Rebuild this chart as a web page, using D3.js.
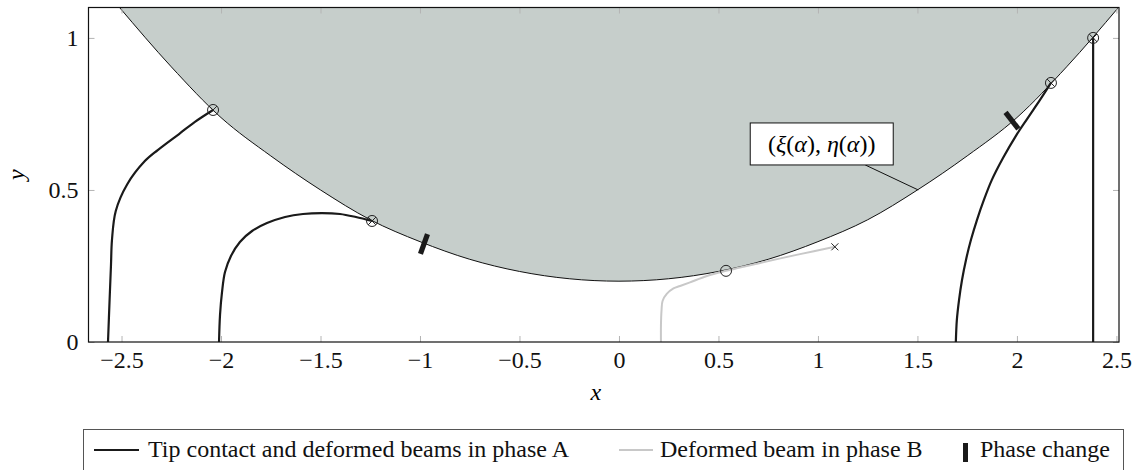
<!DOCTYPE html>
<html>
<head>
<meta charset="utf-8">
<script src="https://cdn.jsdelivr.net/npm/d3@7"></script>
<style>
  body { margin: 0; background: #fff; }
  svg text { font-family: "Liberation Serif", "Times New Roman", Times, "DejaVu Serif", serif; }
</style>
</head>
<body>
<div id="chart"></div>
<script>
// boundary curve (xi(alpha), eta(alpha))
var boundaryX = [-2.51, -2.25, -2.0, -1.75, -1.5, -1.25, -1.0, -0.75, -0.5, -0.25, 0, 0.25, 0.5, 0.75, 1.0, 1.25, 1.5, 1.75, 2.0, 2.25, 2.51];
var boundaryY = [1.1, 0.905, 0.738, 0.612, 0.500, 0.402, 0.330, 0.272, 0.232, 0.208, 0.200, 0.208, 0.232, 0.272, 0.330, 0.402, 0.500, 0.612, 0.738, 0.905, 1.1];

// deformed beams in phase A
var beam1X = [-2.568, -2.560, -2.553, -2.548, -2.529, -2.472, -2.384, -2.318, -2.211, -2.131, -2.040];
var beam1Y = [0, 0.138, 0.253, 0.336, 0.431, 0.518, 0.594, 0.631, 0.684, 0.724, 0.763];
var beam2X = [-2.010, -2.005, -1.995, -1.980, -1.950, -1.905, -1.844, -1.769, -1.678, -1.588, -1.492, -1.402, -1.322, -1.241];
var beam2Y = [0, 0.089, 0.164, 0.230, 0.283, 0.329, 0.365, 0.391, 0.411, 0.421, 0.424, 0.421, 0.411, 0.398];
var beam3X = [1.693, 1.698, 1.709, 1.724, 1.744, 1.769, 1.799, 1.834, 1.874, 1.930, 1.995, 2.055, 2.116, 2.171];
var beam3Y = [0, 0.072, 0.138, 0.204, 0.270, 0.336, 0.401, 0.467, 0.533, 0.605, 0.678, 0.737, 0.796, 0.852];
var beam4X = [2.383, 2.383];
var beam4Y = [0, 1.0];

// deformed beam in phase B
var beamBX = [0.211, 0.211, 0.214, 0.219, 0.240, 0.274, 0.307, 0.357, 0.442, 0.538, 0.709, 0.910, 1.085];
var beamBY = [0, 0.056, 0.105, 0.135, 0.158, 0.176, 0.184, 0.196, 0.217, 0.234, 0.260, 0.289, 0.313];

// tip contact points (circle with cross), plain circle, end cross
var tipX = [-2.040, -1.241, 2.171, 2.383];
var tipY = [0.763, 0.398, 0.852, 1.0];
var circleX = [0.538];
var circleY = [0.234];
var crossX = [1.085];
var crossY = [0.313];

// phase change marks on the boundary
var phaseX = [-0.98, 1.975];
var phaseY = [0.322, 0.728];

var annotX = 1.504, annotY = 0.5;

var xTicks = [-2.5, -2, -1.5, -1, -0.5, 0, 0.5, 1, 1.5, 2, 2.5];
var yTicks = [0, 0.5, 1];

var legendLabels = ["Tip contact and deformed beams in phase A", "Deformed beam in phase B", "Phase change"];

var W = 1136, H = 470;
var pLeft = 88.5, pRight = 1119, pTop = 7.5, pBottom = 342;
var serif = "'Liberation Serif', 'Times New Roman', Times, 'DejaVu Serif', serif";

var svg = d3.select("#chart").append("svg")
    .attr("width", W).attr("height", H)
    .attr("font-family", serif);

var x = d3.scaleLinear().domain([-2.666, 2.513]).range([pLeft, pRight]);
var y = d3.scaleLinear().domain([0, 1.1]).range([pBottom, pTop]);

function pts(xs, ys) { return xs.map(function(v, i) { return [v, ys[i]]; }); }

svg.append("clipPath").attr("id", "clip")
  .append("rect").attr("x", pLeft).attr("y", pTop)
  .attr("width", pRight - pLeft).attr("height", pBottom - pTop);

var plot = svg.append("g").attr("clip-path", "url(#clip)");

var bnd = pts(boundaryX, boundaryY);

// shaded region above the boundary
var area = d3.area()
    .x(function(d) { return x(d[0]); })
    .y0(y(1.1) - 5)
    .y1(function(d) { return y(d[1]); })
    .curve(d3.curveMonotoneX);
plot.append("path").datum(bnd)
    .attr("d", area)
    .attr("fill", "#c6cecb");

var line = d3.line()
    .x(function(d) { return x(d[0]); })
    .y(function(d) { return y(d[1]); })
    .curve(d3.curveMonotoneX);

plot.append("path").datum(bnd)
    .attr("d", line)
    .attr("fill", "none").attr("stroke", "#111").attr("stroke-width", 1);

// beams
var smooth = d3.line()
    .x(function(d) { return x(d[0]); })
    .y(function(d) { return y(d[1]); })
    .curve(d3.curveCatmullRom.alpha(0.5));

plot.append("path").datum(pts(beamBX, beamBY))
    .attr("d", smooth).attr("fill", "none")
    .attr("stroke", "#c8c8c8").attr("stroke-width", 2);

[[beam1X, beam1Y], [beam2X, beam2Y], [beam3X, beam3Y], [beam4X, beam4Y]].forEach(function(b) {
  plot.append("path").datum(pts(b[0], b[1]))
      .attr("d", smooth).attr("fill", "none")
      .attr("stroke", "#1a1a1a").attr("stroke-width", 2.2);
});

// phase change marks, perpendicular to the boundary
function boundaryAngle(px) {
  for (var i = 0; i < boundaryX.length - 1; i++) {
    if (px >= boundaryX[i] && px <= boundaryX[i + 1]) {
      var dx = x(boundaryX[i + 1]) - x(boundaryX[i]);
      var dy = y(boundaryY[i + 1]) - y(boundaryY[i]);
      return Math.atan2(dy, dx) * 180 / Math.PI;
    }
  }
  return 0;
}
plot.selectAll(".phase").data(pts(phaseX, phaseY)).enter()
  .append("rect")
    .attr("x", -2.6).attr("y", -10.5).attr("width", 5.2).attr("height", 21)
    .attr("fill", "#1a1a1a")
    .attr("transform", function(d) {
      return "translate(" + x(d[0]) + "," + y(d[1]) + ") rotate(" + boundaryAngle(d[0]) + ")";
    });

// markers
var tips = plot.selectAll(".tip").data(pts(tipX, tipY)).enter()
  .append("g").attr("transform", function(d) { return "translate(" + x(d[0]) + "," + y(d[1]) + ")"; });
tips.append("circle").attr("r", 5.5).attr("fill", "none").attr("stroke", "#222").attr("stroke-width", 1);
tips.append("path").attr("d", "M-3.9,-3.9L3.9,3.9M-3.9,3.9L3.9,-3.9").attr("stroke", "#222").attr("stroke-width", 1);

plot.selectAll(".circ").data(pts(circleX, circleY)).enter()
  .append("circle")
    .attr("cx", function(d) { return x(d[0]); })
    .attr("cy", function(d) { return y(d[1]); })
    .attr("r", 5.5).attr("fill", "none").attr("stroke", "#222").attr("stroke-width", 1);

plot.selectAll(".cross").data(pts(crossX, crossY)).enter()
  .append("path")
    .attr("transform", function(d) { return "translate(" + x(d[0]) + "," + y(d[1]) + ")"; })
    .attr("d", "M-3.5,-3.5L3.5,3.5M-3.5,3.5L3.5,-3.5")
    .attr("stroke", "#222").attr("stroke-width", 1);

// annotation with pin
var ax = x(annotX), ay = y(annotY);
svg.append("line")
    .attr("x1", ax).attr("y1", ay).attr("x2", ax - 53).attr("y2", ay - 25)
    .attr("stroke", "#111").attr("stroke-width", 1);
svg.append("rect")
    .attr("x", ax - 168).attr("y", ay - 67).attr("width", 143).attr("height", 42)
    .attr("fill", "#fff").attr("stroke", "#111").attr("stroke-width", 1);
var at = svg.append("text")
    .attr("x", ax - 96.5).attr("y", ay - 38)
    .attr("text-anchor", "middle").style("font-size", "24px");
at.append("tspan").text("(");
at.append("tspan").style("font-style", "italic").text("ξ");
at.append("tspan").text("(");
at.append("tspan").style("font-style", "italic").text("α");
at.append("tspan").text("), ");
at.append("tspan").style("font-style", "italic").text("η");
at.append("tspan").text("(");
at.append("tspan").style("font-style", "italic").text("α");
at.append("tspan").text("))");

// axes: inward gray ticks on all four sides
var fmt = d3.format("~g");
var gx = svg.append("g").attr("transform", "translate(0," + pBottom + ")")
    .call(d3.axisBottom(x).tickValues(xTicks).tickSize(-6).tickPadding(9).tickFormat(fmt));
var gxTop = svg.append("g").attr("transform", "translate(0," + pTop + ")")
    .call(d3.axisTop(x).tickValues(xTicks).tickSize(-6).tickFormat(""));
var gy = svg.append("g").attr("transform", "translate(" + pLeft + ",0)")
    .call(d3.axisLeft(y).tickValues(yTicks).tickSize(-6).tickPadding(10).tickFormat(fmt));
var gyR = svg.append("g").attr("transform", "translate(" + pRight + ",0)")
    .call(d3.axisRight(y).tickValues(yTicks).tickSize(-6).tickFormat(""));

[gx, gxTop, gy, gyR].forEach(function(g) {
  g.attr("font-family", serif).attr("font-size", 24);
  g.select(".domain").remove();
  g.selectAll(".tick line").attr("stroke", "#b4b4b4").attr("stroke-width", 1);
  g.selectAll(".tick text").attr("fill", "#111");
});

// frame
svg.append("rect")
    .attr("x", pLeft).attr("y", pTop).attr("width", pRight - pLeft).attr("height", pBottom - pTop)
    .attr("fill", "none").attr("stroke", "#111").attr("stroke-width", 1.2);

// axis labels
svg.append("text").attr("x", (pLeft + pRight) / 2 - 8).attr("y", 400)
    .attr("text-anchor", "middle").style("font-style", "italic").style("font-size", "24px")
    .text("x");
svg.append("text").attr("transform", "translate(24," + y(0.55) + ") rotate(-90)")
    .attr("text-anchor", "middle").style("font-style", "italic").style("font-size", "24px")
    .text("y");

// legend
var lg = svg.append("g");
lg.append("rect").attr("x", 83.5).attr("y", 429.5).attr("width", 1040).attr("height", 60)
    .attr("fill", "#fff").attr("stroke", "#555").attr("stroke-width", 1);
var ly = 450;
lg.append("line").attr("x1", 94).attr("x2", 139).attr("y1", ly).attr("y2", ly)
    .attr("stroke", "#1a1a1a").attr("stroke-width", 2.2);
lg.append("text").attr("x", 148).attr("y", 457).style("font-size", "24px").attr("fill", "#111")
    .text(legendLabels[0]);
lg.append("line").attr("x1", 619).attr("x2", 653).attr("y1", ly).attr("y2", ly)
    .attr("stroke", "#c8c8c8").attr("stroke-width", 2);
lg.append("text").attr("x", 660).attr("y", 457).style("font-size", "24px").attr("fill", "#111")
    .text(legendLabels[1]);
lg.append("rect").attr("x", 963).attr("y", 443).attr("width", 5).attr("height", 19)
    .attr("fill", "#1a1a1a");
lg.append("text").attr("x", 980).attr("y", 457).style("font-size", "24px").attr("fill", "#111")
    .text(legendLabels[2]);
</script>
</body>
</html>
